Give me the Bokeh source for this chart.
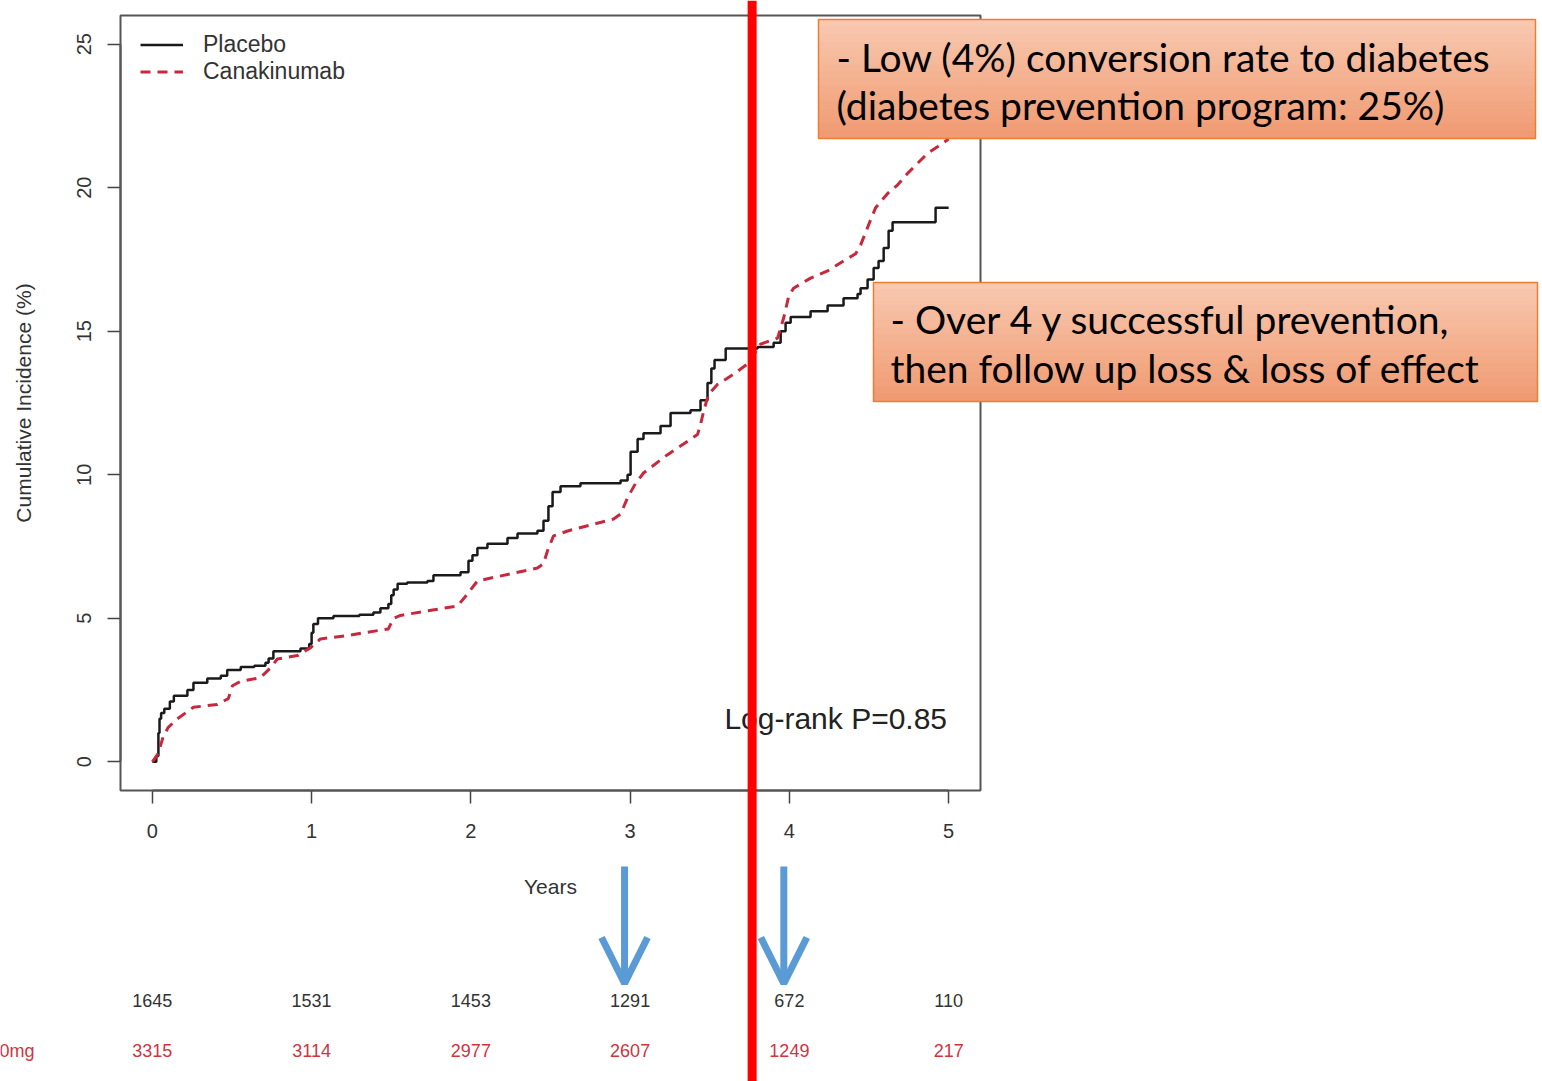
from bokeh.plotting import figure
from bokeh.models import (ColumnDataSource, BoxAnnotation, Label, LabelSet, Arrow,
                          OpenHead, Legend, LegendItem, FixedTicker, Range1d)
from bokeh.core.properties import value
from bokeh.embed import file_html
from bokeh.resources import INLINE

# ---------------- data ----------------
placebo_t = [0.000, 0.025, 0.038, 0.045, 0.055, 0.075, 0.110, 0.135, 0.220, 0.258, 0.345, 0.430,
             0.470, 0.555, 0.640, 0.710, 0.730, 0.760, 0.930, 0.985, 1.000, 1.011, 1.040, 1.137,
             1.300, 1.388, 1.432, 1.482, 1.500, 1.515, 1.540, 1.600, 1.727, 1.765, 1.935, 1.985,
             2.010, 2.041, 2.104, 2.230, 2.293, 2.418, 2.456, 2.487, 2.513, 2.563, 2.688, 2.940,
             2.984, 3.003, 3.047, 3.084, 3.191, 3.254, 3.379, 3.442, 3.486, 3.510, 3.530, 3.600,
             3.800, 3.901, 3.945, 3.976, 4.008, 4.133, 4.240, 4.340, 4.428, 4.447, 4.491, 4.529,
             4.560, 4.592, 4.623, 4.648, 4.918, 5.000]
placebo_v = [0.0, 0.2, 1.0, 1.5, 1.7, 1.85, 2.1, 2.3, 2.5, 2.75, 2.9, 3.0,
             3.2, 3.3, 3.35, 3.45, 3.6, 3.85, 3.95, 4.1, 4.5, 4.8, 5.0, 5.08,
             5.12, 5.2, 5.35, 5.5, 5.8, 6.0, 6.2, 6.25, 6.3, 6.5, 6.6, 7.0,
             7.2, 7.45, 7.6, 7.8, 7.95, 8.05, 8.4, 8.9, 9.4, 9.6, 9.7, 9.8,
             10.0, 10.8, 11.25, 11.45, 11.7, 12.15, 12.25, 12.6, 13.2, 13.7, 14.0, 14.4,
             14.45, 14.6, 15.0, 15.3, 15.5, 15.7, 15.9, 16.15, 16.3, 16.5, 16.8, 17.2,
             17.45, 17.9, 18.5, 18.8, 19.3, 19.3]

cana_t = [0.000, 0.038, 0.069, 0.100, 0.157, 0.258, 0.408, 0.477, 0.503, 0.553, 0.678, 0.741,
          0.785, 0.911, 0.992, 1.055, 1.225, 1.482, 1.514, 1.558, 1.916, 1.979, 2.041, 2.418,
          2.456, 2.481, 2.519, 2.607, 2.896, 2.940, 2.984, 3.034, 3.084, 3.235, 3.335, 3.423,
          3.442, 3.461, 3.492, 3.549, 3.649, 3.737, 3.819, 3.926, 3.964, 3.995, 4.026, 4.133,
          4.240, 4.340, 4.416, 4.447, 4.497, 4.541, 4.617, 4.680, 4.742, 4.805, 4.868, 4.950,
          5.000]
cana_v = [0.0, 0.3, 0.9, 1.2, 1.5, 1.9, 2.0, 2.2, 2.65, 2.8, 2.93, 3.27,
          3.58, 3.7, 3.97, 4.28, 4.4, 4.63, 5.0, 5.1, 5.43, 5.85, 6.3, 6.75,
          6.9, 7.35, 7.87, 8.04, 8.46, 8.63, 9.2, 9.7, 10.06, 10.7, 11.07, 11.4,
          11.75, 12.2, 12.8, 13.15, 13.5, 13.86, 14.55, 14.76, 15.46, 16.2, 16.5, 16.85,
          17.1, 17.45, 17.7, 18.0, 18.7, 19.3, 19.8, 20.1, 20.5, 20.85, 21.2, 21.5,
          21.7]

x_ticks = [0, 1, 2, 3, 4, 5]
y_ticks = [0, 5, 10, 15, 20, 25]

risk_years = [0, 1, 2, 3, 4, 5]
risk_placebo = ["1645", "1531", "1453", "1291", "672", "110"]
risk_cana = ["3315", "3114", "2977", "2607", "1249", "217"]

arrow_years = [3, 4]
cutoff_year = 3.766

note1 = ["- Low (4%) conversion rate to diabetes", "(diabetes prevention program: 25%)"]
note2 = ["- Over 4 y successful prevention,", "then follow up loss & loss of effect"]

# ---------------- layout helpers ----------------
W, H = 1542, 1081
FL, FR, FT, FB = 120, 980, 15, 790          # plot box edges in page pixels
X0, X1, Y0, Y1 = -0.2, 5.2, -1.0, 26.0      # plot box in data units


def px2x(px):
    return X0 + (px - FL) / (FR - FL) * (X1 - X0)


def py2y(py):
    return Y1 - (py - FT) / (FB - FT) * (Y1 - Y0)


BLACK = "#1a1a1a"
RED = "#c8283c"
BLUE = "#5b9bd5"
AXIS_COL = "#555555"
SANS = "Liberation Sans"

# the frame covers the whole page; the R-style box is drawn inside it
p = figure(width=W, height=H,
           x_range=Range1d(px2x(0), px2x(W)), y_range=Range1d(py2y(H), py2y(0)),
           output_backend="svg", toolbar_location=None,
           min_border_left=0, min_border_right=0, min_border_top=0, min_border_bottom=0)
p.xgrid.visible = False
p.ygrid.visible = False
p.outline_line_color = None
p.background_fill_color = "white"
p.border_fill_color = "white"

p.add_layout(BoxAnnotation(left=X0, right=X1, bottom=Y0, top=Y1, fill_alpha=0,
                           line_color=AXIS_COL, line_alpha=1, line_width=2))

for ax in (p.xaxis[0], p.yaxis[0]):
    ax.axis_line_color = AXIS_COL
    ax.axis_line_width = 2
    ax.major_tick_in = 0
    ax.major_tick_out = 13
    ax.minor_tick_line_color = None
    ax.major_tick_line_color = "#444444"
    ax.major_tick_line_width = 1.5
    ax.major_label_text_font = SANS
    ax.major_label_text_font_size = "20px"
    ax.major_label_text_color = "#333333"
    ax.axis_label_text_font = SANS
    ax.axis_label_text_font_size = "21px"
    ax.axis_label_text_font_style = "normal"
    ax.axis_label_text_color = "#333333"

p.xaxis.ticker = FixedTicker(ticks=x_ticks)
p.yaxis.ticker = FixedTicker(ticks=y_ticks)
p.xaxis.fixed_location = Y0
p.yaxis.fixed_location = X0
p.xaxis.bounds = (x_ticks[0], x_ticks[-1])
p.yaxis.bounds = (y_ticks[0], y_ticks[-1])
p.xaxis.axis_label = "Years"
p.yaxis.axis_label = "Cumulative Incidence (%)"
p.xaxis.major_label_standoff = 20
p.xaxis.axis_label_standoff = 34
p.yaxis.major_label_orientation = "vertical"
p.yaxis.major_label_standoff = 16
p.yaxis.axis_label_standoff = 40

# ---------------- curves ----------------
r_p = p.step(x=placebo_t, y=placebo_v, mode="after", line_color=BLACK, line_width=2.5)
r_c = p.line(x=cana_t, y=cana_v, line_color=RED, line_width=3, line_dash="10 7")

legend = Legend(items=[LegendItem(label="Placebo", renderers=[r_p]),
                       LegendItem(label="Canakinumab", renderers=[r_c])],
                location=(140, H - 85),
                margin=0, padding=16, spacing=0,
                glyph_width=43, glyph_height=25, label_height=25, label_standoff=20,
                label_text_font=SANS, label_text_font_size="23px",
                label_text_color="#333333",
                border_line_color=None, background_fill_alpha=0)
p.add_layout(legend)

p.add_layout(Label(x=4.99, y=1.5, text="Log-rank P=0.85", text_align="right",
                   text_baseline="middle", text_font=SANS,
                   text_font_size="30px", text_color="#222222"))

# ---------------- numbers at risk ----------------
src_rp = ColumnDataSource(dict(x=risk_years, y=[py2y(1000)] * len(risk_years), t=risk_placebo))
src_rc = ColumnDataSource(dict(x=risk_years, y=[py2y(1050)] * len(risk_years), t=risk_cana))
p.add_layout(LabelSet(x="x", y="y", text="t", source=src_rp, text_align="center",
                      text_baseline="middle", text_font=value(SANS),
                      text_font_size=value("18px"), text_color="#333333"))
p.add_layout(LabelSet(x="x", y="y", text="t", source=src_rc, text_align="center",
                      text_baseline="middle", text_font=value(SANS),
                      text_font_size=value("18px"), text_color="#d0343f"))
p.add_layout(Label(x=px2x(34), y=py2y(1050), text="0mg", text_align="right",
                   text_baseline="middle", text_font=SANS,
                   text_font_size="18px", text_color="#d0343f"))


# ---------------- annotation boxes (vertical gradient) ----------------
def grad_box(l, r, t, b, c_top=(248, 200, 175), c_bot=(240, 155, 115), n=16):
    for i in range(n):
        f = i / (n - 1)
        c = tuple(int(round(c_top[k] + (c_bot[k] - c_top[k]) * f)) for k in range(3))
        yt = t + (b - t) * i / n
        yb = t + (b - t) * (i + 1) / n
        p.add_layout(BoxAnnotation(left=px2x(l), right=px2x(r), top=py2y(yt), bottom=py2y(yb),
                                   fill_color="#%02x%02x%02x" % c, fill_alpha=1,
                                   line_color="#%02x%02x%02x" % c, line_alpha=1, line_width=1))
    p.add_layout(BoxAnnotation(left=px2x(l), right=px2x(r), top=py2y(t), bottom=py2y(b),
                               fill_alpha=0, line_color="#ed7d31", line_alpha=1, line_width=1.5))


grad_box(818, 1535, 19, 138)
grad_box(873, 1537, 282, 401)

for txt, (lx, ly) in zip(note1 + note2, [(836, 56), (836, 104), (890, 318), (890, 367)]):
    p.add_layout(Label(x=px2x(lx), y=py2y(ly), text=txt, text_align="left",
                       text_baseline="middle", text_font="Lato",
                       text_font_size="39px", text_color="#000000"))

# ---------------- arrows and cutoff line ----------------
for yr in arrow_years:
    xa = yr - 0.035
    p.add_layout(Arrow(x_start=xa, y_start=py2y(866), x_end=xa, y_end=py2y(983),
                       line_color=BLUE, line_width=7,
                       end=OpenHead(size=46, line_color=BLUE, line_width=7)))

p.add_layout(Arrow(x_start=cutoff_year, y_start=py2y(0), x_end=cutoff_year, y_end=py2y(H + 5),
                   start=None, end=None, line_color="#ff0000", line_width=9))

open("out.html", "w").write(file_html(p, INLINE))
